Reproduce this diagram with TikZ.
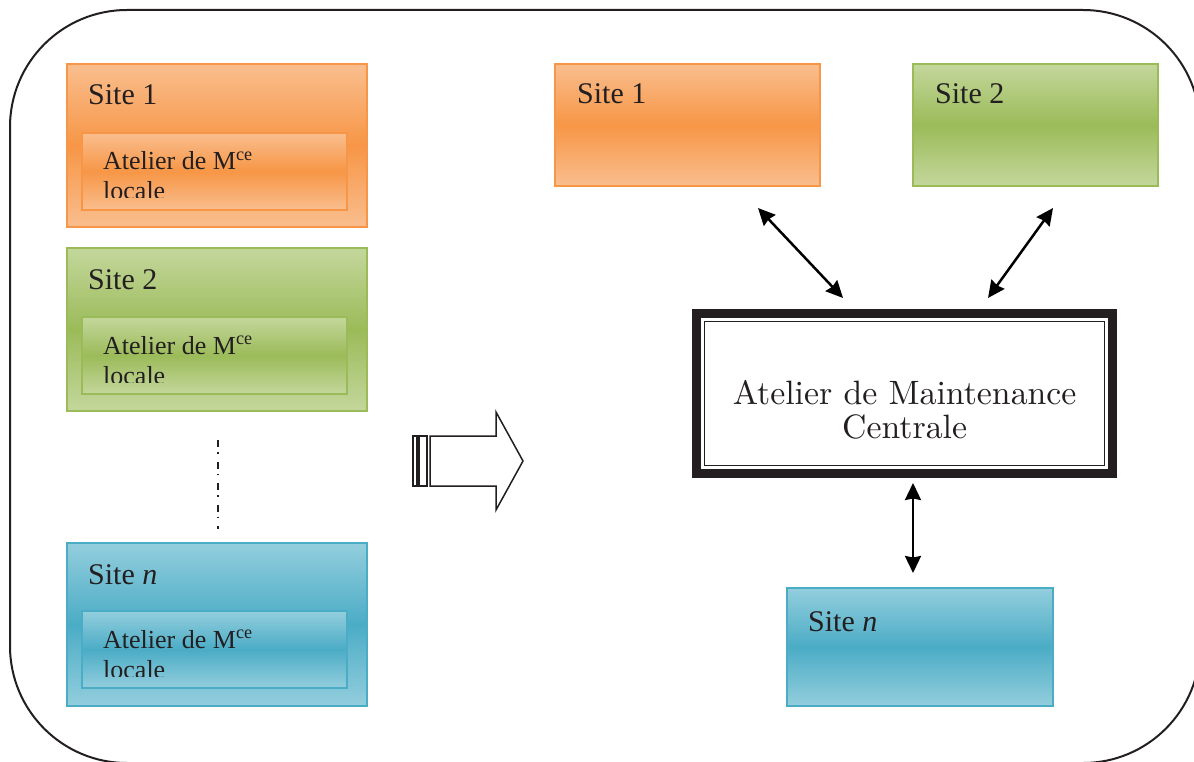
\documentclass[tikz,border=0pt]{standalone}
\usepackage{fontspec}
\newfontfamily\timesfont{Liberation Serif}
\newfontfamily\lmten{lmroman10-regular}[Extension=.otf]
\usetikzlibrary{positioning, arrows.meta}

\definecolor{txt}{HTML}{231F20}
\definecolor{orangeD}{HTML}{F79646}
\definecolor{orangeL}{HTML}{F9BE8E}
\definecolor{greenD}{HTML}{9BBB59}
\definecolor{greenL}{HTML}{C4D79C}
\definecolor{blueD}{HTML}{4BACC6}
\definecolor{blueL}{HTML}{93CEDD}

\tikzset{
    sitebox/.style={draw=#1D, line width=2, top color=#1L, bottom color=#1L, middle color=#1D,
        inner sep=0, outer sep=0, anchor=north west},
    atelier/.style={sitebox=#1, minimum width=265, minimum height=77},
    sitetitle/.style={anchor=base west, inner sep=0, font=\timesfont\fontsize{30}{36}\selectfont},
    ateliertext/.style={anchor=base west, inner sep=0, align=left, font=\timesfont\fontsize{26}{30}\selectfont},
    liaison/.style={{Stealth[length=17pt, width=16pt, inset=1.5pt]}-{Stealth[length=17pt, width=16pt, inset=1.5pt]}, line width=2.5},
    bloc/.style={draw=txt, line width=1.5, fill=white, line join=miter},
}

\begin{document}
\begin{tikzpicture}[x=1pt, y=-1pt, text=txt]
    \useasboundingbox (0,0) rectangle (1194,762);
    \clip (0,0) rectangle (1194,762);
    % cadre
    \draw[txt, line width=2, rounded corners=117] (10,10) rectangle (1200,763);

    % avant : sites avec atelier local
    \node[sitebox=orange, minimum width=300, minimum height=163] (loc1) at (67,64) {};
    \node[sitetitle] at ([shift={(21,41)}]loc1.north west) {Site 1};
    \node[atelier=orange] (at1) at ([shift={(15,69)}]loc1.north west) {};
    \begin{scope}
        \clip (at1.north west) rectangle ([shift={(0,-12)}]at1.south east);
        \node[ateliertext] at ([shift={(21,67)}]at1.north west) {Atelier de M\textsuperscript{ce}\\locale};
    \end{scope}

    \node[sitebox=green, minimum width=300, minimum height=163] (loc2) at (67,248) {};
    \node[sitetitle] at ([shift={(21,41)}]loc2.north west) {Site 2};
    \node[atelier=green] (at2) at ([shift={(15,69)}]loc2.north west) {};
    \begin{scope}
        \clip (at2.north west) rectangle ([shift={(0,-12)}]at2.south east);
        \node[ateliertext] at ([shift={(21,67)}]at2.north west) {Atelier de M\textsuperscript{ce}\\locale};
    \end{scope}

    \draw[txt, line width=1.5, dash pattern=on 7pt off 5pt on 1.5pt off 8pt] (218,440) -- (218,529);

    \node[sitebox=blue, minimum width=300, minimum height=163] (locn) at (67,543) {};
    \node[sitetitle] at ([shift={(21,41)}]locn.north west) {Site \textit{n}};
    \node[atelier=blue] (atn) at ([shift={(15,68)}]locn.north west) {};
    \begin{scope}
        \clip (atn.north west) rectangle ([shift={(0,-12)}]atn.south east);
        \node[ateliertext] at ([shift={(21,67)}]atn.north west) {Atelier de M\textsuperscript{ce}\\locale};
    \end{scope}

    % fleche
    \draw[bloc] (430,436) -- (496,436) -- (496,412) -- (523,461) -- (496,510) -- (496,486) -- (430,486) -- cycle;
    \draw[bloc] (413,436) rectangle (417,486) (419,436) rectangle (427,486);

    % apres : atelier central
    \node[sitebox=orange, minimum width=265, minimum height=122] (cen1) at (555,64) {};
    \node[sitetitle] at ([shift={(22,40)}]cen1.north west) {Site 1};
    \node[sitebox=green, minimum width=245, minimum height=122] (cen2) at (913,64) {};
    \node[sitetitle] at ([shift={(22,40)}]cen2.north west) {Site 2};
    \node[sitebox=blue, minimum width=266, minimum height=118] (cenn) at (787,588) {};
    \node[sitetitle] at ([shift={(21,43)}]cenn.north west) {Site \textit{n}};

    \node[draw=txt, line width=8.5, minimum width=416, minimum height=160, inner sep=0, outer sep=0] (amc) at (904.6,393.6) {};
    \draw[txt, line width=1.5] ([shift={(8,8)}]amc.north west) rectangle ([shift={(-8,-8)}]amc.south east);
    \node[align=center, inner sep=0, font=\lmten\fontsize{33.8}{34}\selectfont] at ([yshift=-16]amc.center) {Atelier de Maintenance\\Centrale};

    \coordinate (a1) at (758,208);
    \coordinate (b1) at (843,298);
    \coordinate (a2) at (1053,208);
    \coordinate (b2) at (988,298);
    \coordinate (a3) at (913,483);
    \coordinate (b3) at (913,573);
    \draw[liaison] (a1) -- (b1);
    \draw[liaison] (a2) -- (b2);
    \draw[liaison] (a3) -- (b3);
\end{tikzpicture}
\end{document}
